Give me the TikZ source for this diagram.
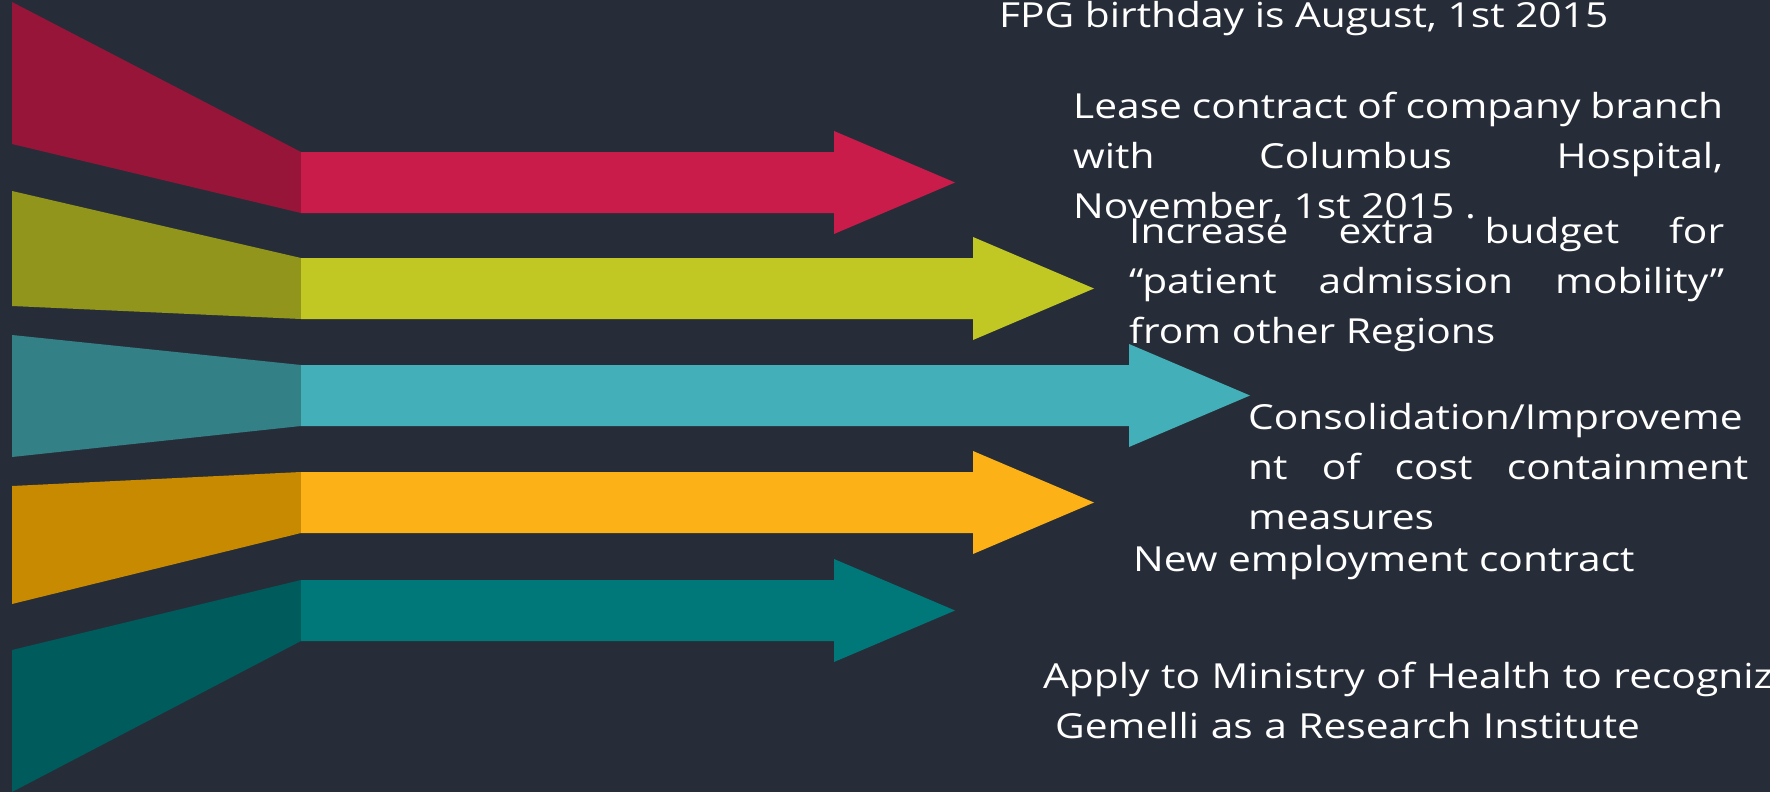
\documentclass[tikz,border=0pt]{standalone}
\usepackage{fontspec}
\setmainfont[FakeStretch=1.18]{Open Sans}

\definecolor{slidebg}{HTML}{272D38}
\definecolor{redA}{HTML}{98153A}
\definecolor{redB}{HTML}{C91C4A}
\definecolor{oliveA}{HTML}{91951B}
\definecolor{oliveB}{HTML}{C2C823}
\definecolor{tealA}{HTML}{338087}
\definecolor{tealB}{HTML}{43AFB8}
\definecolor{amberA}{HTML}{C88A00}
\definecolor{amberB}{HTML}{FCB216}
\definecolor{petrolA}{HTML}{005B5C}
\definecolor{petrolB}{HTML}{00787A}

\begin{document}
\begin{tikzpicture}[x=1pt, y=-1pt,
    milestone/.style={anchor=base west, inner sep=0pt, text=white,
        font=\fontsize{34.5}{50}\selectfont},
    justified/.style={milestone, align=justify}]

    \useasboundingbox (0,0) rectangle (1770,792);
    \fill[slidebg] (0,0) rectangle (1770,792);

    % tapers on the left, then the arrows
    \foreach \dark/\light/\lt/\lb/\y/\e in {redA/redB/2/144/152/834,
            oliveA/oliveB/191/306/258/973, tealA/tealB/335/457/365/1129,
            amberA/amberB/486/604/472/973, petrolA/petrolB/650/792/580/834}{
        \fill[\dark] (12,\lt) -- (301,\y) -- (301,\y+61) -- (12,\lb) -- cycle;
        \fill[\light] (301,\y) -- (\e,\y) -- (\e,\y-21) -- (\e+121,\y+30.5)
            -- (\e,\y+82) -- (\e,\y+61) -- (301,\y+61) -- cycle;
    }

    \node[milestone] (birthday) at (999,28) {FPG birthday is August, 1st 2015};
    \node[justified, text width=650pt] (lease) at (1073,118)
        {Lease contract of company branch\linebreak with Columbus Hospital,\linebreak November, 1st 2015 .};
    \node[justified, text width=595pt] (budget) at (1129,243)
        {Increase extra budget for\linebreak “patient admission mobility”\linebreak from other Regions};
    \node[justified, text width=500pt] (costs) at (1248,429)
        {Consolidation/Improveme\linebreak nt of cost containment\linebreak measures};
    \node[milestone] (employment) at (1133,571) {New employment contract};
    \node[milestone, align=left, text width=760pt] (research) at (1043,688)
        {Apply to Ministry of Health to recogniz\\\hspace*{12pt}Gemelli as a Research Institute};

\end{tikzpicture}
\end{document}
